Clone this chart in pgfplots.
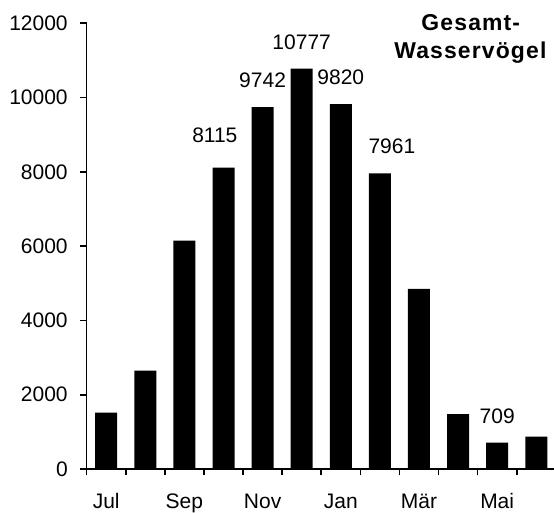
\documentclass[border=0pt]{standalone}
\usepackage{pgfplots}
\pgfplotsset{compat=1.18}
\usepackage{fontspec}
\setmainfont{Liberation Sans}
\newfontfamily\titlefont{Liberation Sans Bold}[LetterSpace=5]

\begin{document}
\begin{tikzpicture}
\useasboundingbox (-65pt,-32.25pt) rectangle (350.5pt,351.75pt);
\begin{axis}[
    at={(0,0)}, anchor=south west,
    scale only axis,
    width=350.4pt, height=334.3pt,
    xmin=-0.5, xmax=11.45,
    ymin=0, ymax=12000,
    axis x line*=bottom, axis y line*=left,
    axis line style={line width=1.2pt, -},
    tick style={line width=1.2pt, black},
    tick align=outside,
    major tick length=4.7pt,
    ytick={0,2000,...,12000},
    xtick={-0.5,0.5,...,10.5},
    xticklabels={},
    extra x ticks={0,2,4,6,8,10},
    extra x tick labels={Jul,Sep,Nov,Jan,Mär,Mai},
    extra x tick style={major tick length=0pt, tick style={draw=none}},
    xticklabel style={yshift=-15pt},
    yticklabel style={xshift=-6pt},
    scaled y ticks=false,
    /pgf/number format/1000 sep={},
    /pgf/number format/assume math mode=true,
    tick label style={font=\fontsize{15.75}{18}\selectfont},
]
\addplot[ybar, bar width=16.5pt, bar shift=0pt, fill=black, draw=none]
    coordinates {(0,1520) (1,2650) (2,6150) (3,8115) (4,9742) (5,10777)
                 (6,9820) (7,7961) (8,4850) (9,1475) (10,709) (11,875)};
% data labels shown in the chart
\addplot[draw=none, mark=none, nodes near coords, point meta=y,
    nodes near coords style={font=\fontsize{15.75}{18}\selectfont, anchor=center, yshift=20pt},
    coordinate style/.condition={x==3}{xshift=-6.5pt, yshift=4.5pt},
    coordinate style/.condition={x==7}{xshift=9pt}]
    coordinates {(3,8115) (4,9742) (5,10777) (6,9820) (7,7961) (10,709)};
\end{axis}
\node[anchor=base, inner sep=0pt, font=\titlefont\fontsize{17.2}{20}\selectfont]
    at (288.1pt,329.25pt) {Gesamt-};
\node[anchor=base, inner sep=0pt, font=\titlefont\fontsize{17.2}{20}\selectfont]
    at (287.8pt,308.25pt) {Wasservögel};
\end{tikzpicture}
\end{document}
